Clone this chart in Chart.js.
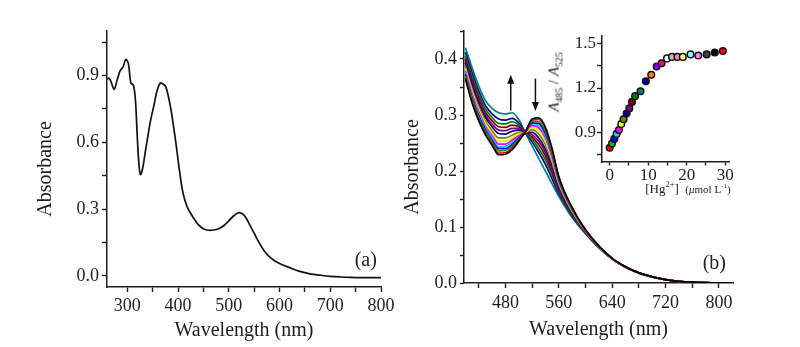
<!DOCTYPE html>
<html><head><meta charset="utf-8">
<script src="https://cdn.jsdelivr.net/npm/chart.js@4"></script>
<style>
html,body{margin:0;padding:0;background:#fff;}
#wrap{position:relative;width:800px;height:347px;overflow:hidden;background:#fff;}
canvas{position:absolute;}
.lbl{position:absolute;white-space:nowrap;font-family:"Liberation Serif",serif;color:#1a1a1a;line-height:1;}
.lbl sub,.lbl sup{font-size:65%;line-height:0;}
</style></head><body>
<div id="wrap">
<canvas id="ca" width="400" height="347" style="left:0;top:0;width:400px;height:347px"></canvas>
<canvas id="cb" width="400" height="347" style="left:400px;top:0;width:400px;height:347px"></canvas>
<canvas id="ci" width="220" height="175" style="left:540px;top:25px;width:220px;height:175px"></canvas>
<div class="lbl" id="iy" style="left:554px;top:82px;font-size:15px;transform:translate(-50%,-50%) rotate(-90deg);"><i>A</i><sub>485</sub> / <i>A</i><sub>525</sub></div>
<div class="lbl" id="ix" style="left:688px;top:188px;font-size:13px;transform:translate(-50%,-50%);">[Hg<sup>2+</sup>]&nbsp;&nbsp;<span style="font-size:11px">(<i>μ</i>mol L<sup>-1</sup>)</span></div>
</div>
<script>
// ---------- Panel (a) data ----------
const aWavelength = [260,264,268,274,280,286,292,297,302,307,312,316,320,323,326,330,335,340,346,352,359,365,370,376,385,395,403,410,418,425,432,440,450,460,470,480,490,500,510,520,530,540,550,560,570,580,590,600,620,640,660,680,700,720,740,760,780,800];
const aAbsorbance = [0.885,0.888,0.872,0.838,0.88,0.922,0.94,0.972,0.955,0.866,0.857,0.79,0.61,0.5,0.455,0.48,0.55,0.62,0.70,0.76,0.835,0.866,0.862,0.849,0.76,0.61,0.47,0.37,0.31,0.28,0.255,0.23,0.212,0.205,0.206,0.212,0.225,0.247,0.27,0.284,0.273,0.235,0.192,0.148,0.112,0.086,0.068,0.056,0.037,0.02,0.009,0.003,-0.002,-0.005,-0.007,-0.008,-0.008,-0.008];
const aXTicks = [300,350,400,450,500,550,600,650,700,750,800];
const aXLabels = [300,400,500,600,700,800];
const aYTicks = [0,0.15,0.3,0.45,0.6,0.75,0.9,1.05];
const aYLabels = [0,0.3,0.6,0.9];

// ---------- Panel (b) data (titration spectra) ----------
const bWavelength = [420,430,440,450,460,470,480,490,500,510,520,530,540,550,560,580,600,620,640,660,680,700,720,740,760,790,820];
const bSpec00 = [.365,.322,.290,.265,.246,.229,.230,.238,.253,.270,.293,.295,.278,.240,.190,.135,.095,.066,.044,.029,.018,.011,.006,.003,.0015,.0003,0];
const bSpec01 = [.367,.325,.292,.267,.249,.232,.233,.241,.255,.270,.291,.292,.275,.237,.189,.134,.095,.066,.044,.029,.018,.011,.006,.003,.0015,.0003,0];
const bSpec02 = [.370,.328,.296,.271,.252,.236,.237,.244,.257,.270,.289,.288,.271,.234,.187,.133,.094,.066,.044,.029,.018,.011,.006,.003,.0015,.0003,0];
const bSpec03 = [.373,.331,.299,.274,.255,.240,.240,.247,.259,.270,.286,.285,.267,.231,.185,.132,.094,.066,.044,.029,.018,.011,.006,.003,.0015,.0003,0];
const bSpec04 = [.376,.334,.302,.277,.259,.243,.244,.251,.260,.270,.284,.281,.263,.228,.183,.132,.094,.066,.044,.029,.018,.011,.006,.003,.0015,.0003,0];
const bSpec05 = [.379,.338,.306,.280,.263,.248,.248,.255,.263,.270,.281,.277,.259,.224,.181,.131,.093,.066,.044,.029,.018,.011,.006,.003,.0015,.0003,0];
const bSpec06 = [.383,.342,.310,.285,.267,.253,.253,.259,.266,.269,.278,.272,.253,.220,.179,.129,.093,.066,.044,.029,.018,.011,.006,.003,.0015,.0003,0];
const bSpec07 = [.387,.347,.315,.289,.272,.259,.259,.264,.269,.269,.274,.266,.247,.215,.176,.128,.092,.064,.043,.028,.018,.011,.006,.003,.0015,.0003,0];
const bSpec08 = [.393,.354,.321,.296,.279,.267,.266,.271,.273,.269,.269,.259,.239,.209,.173,.126,.092,.064,.043,.028,.018,.011,.006,.003,.0015,.0003,0];
const bSpec09 = [.397,.359,.326,.300,.284,.273,.272,.276,.276,.269,.265,.253,.233,.203,.170,.125,.091,.064,.043,.028,.018,.011,.006,.003,.0015,.0003,0];
const bSpec10 = [.401,.364,.331,.305,.290,.279,.278,.282,.279,.269,.261,.247,.227,.198,.167,.123,.090,.064,.043,.028,.018,.011,.006,.003,.0015,.0003,0];
const bSpec11 = [.406,.369,.337,.311,.296,.285,.284,.288,.282,.268,.257,.240,.220,.193,.164,.122,.090,.064,.043,.028,.018,.011,.006,.003,.0015,.0003,0];
const bSpec12 = [.412,.376,.343,.317,.302,.293,.291,.294,.286,.268,.252,.233,.212,.186,.160,.120,.089,.063,.043,.028,.018,.011,.006,.003,.0015,.0003,0];
const bSpec13 = [.420,.385,.352,.326,.312,.304,.302,.304,.292,.268,.245,.222,.200,.177,.155,.117,.088,.063,.043,.028,.018,.011,.006,.003,.0015,.0003,0];
const bSpectra = [bSpec00,bSpec01,bSpec02,bSpec03,bSpec04,bSpec05,bSpec06,bSpec07,bSpec08,bSpec09,bSpec10,bSpec11,bSpec12,bSpec13];
const bXTicks = [440,480,520,560,600,640,680,720,760,800];
const bXLabels = [480,560,640,720,800];
const bYTicks = [0,0.05,0.1,0.15,0.2,0.25,0.3,0.35,0.4,0.45];
const bYLabels = [0,0.1,0.2,0.3,0.4];
// arrows (wavelength, start absorbance, end absorbance)
const arrowWavelength = [488, 525];
const arrowFrom = [0.308, 0.365];
const arrowTo = [0.372, 0.307];

// ---------- Inset data ----------
const insetHg = [0,0.6,1.2,1.8,2.4,3.0,3.6,4.4,5.1,5.8,6.6,8.0,9.4,10.8,12.2,13.5,14.9,16.2,17.6,19.0,21.0,23.0,25.2,27.3,29.4];
const insetRatio = [0.796,0.825,0.856,0.89,0.916,0.956,0.989,1.027,1.062,1.106,1.145,1.178,1.245,1.289,1.345,1.367,1.40,1.41,1.41,1.41,1.427,1.42,1.427,1.44,1.45];
const insetXTicks = [0,5,10,15,20,25,30];
const insetXLabels = [0,10,20,30];
const insetYTicks = [0.75,0.9,1.05,1.2,1.35,1.5];
const insetYLabels = [0.9,1.2,1.5];

// ---------- styles ----------
const FONT = "'Liberation Serif','Times New Roman',serif";
const INK = '#1e1e1e';
const specColors = ['#000000','#ff0000','#00a000','#0000ff','#00c8e8','#ff00ff','#f0f000','#808000','#000080','#800080','#800000','#008000','#0000a0','#008080'];
const insetColors = ['#ff0000','#00c000','#0000ff','#00e0ff','#ff00ff','#ffff00','#808000','#000080','#800080','#800000','#008000','#008080','#0000a0','#ff8000','#8000ff','#ff0080','#ffffff','#c0c0c0','#ff80c0','#ffff80','#80ffff','#ff80ff','#404040','#000000','#ff0000'];

Chart.defaults.animation = false;
Chart.defaults.font.family = FONT;
Chart.defaults.color = INK;

function fixedTicks(values){ return s => { s.ticks = values.map(v => ({value: v})); }; }
function labelIf(majors, digits){ return v => majors.some(m => Math.abs(m - v) < 1e-9) ? Number(v).toFixed(digits) : ''; }

function axis(o){
  const cfg = {
    type:'linear', min:o.min, max:o.max, position:o.pos,
    afterBuildTicks: fixedTicks(o.ticks),
    afterFit: s => { if (o.pos === 'left') s.width = o.size; else s.height = o.size; },
    border:{display:true, color:INK, width:1.5},
    grid:{drawOnChartArea:false, drawTicks:true, tickLength:o.tickLen, tickColor:INK, tickWidth:1.4},
    ticks:{autoSkip:false, maxRotation:0, minRotation:0, padding:o.pad, color:INK, font:{family:FONT, size:o.font}, callback: labelIf(o.labels, o.digits)}
  };
  if (o.title) cfg.title = {display:true, text:o.title, color:INK, font:{family:FONT, size:20}, padding:o.titlePad};
  return cfg;
}

const panelLabel = {
  id:'panelLabel',
  afterDraw(chart, args, opts){
    if (!opts || !opts.text) return;
    const {ctx, scales:{x, y}} = chart;
    ctx.save();
    ctx.font = '20px ' + FONT; ctx.fillStyle = INK; ctx.textAlign = 'center'; ctx.textBaseline = 'middle';
    ctx.fillText(opts.text, x.getPixelForValue(opts.x), y.getPixelForValue(opts.y));
    ctx.restore();
  }
};
const arrows = {
  id:'arrows',
  afterDatasetsDraw(chart, args, opts){
    if (!opts || !opts.show) return;
    const {ctx, scales:{x, y}} = chart;
    ctx.save();
    ctx.strokeStyle = '#111'; ctx.fillStyle = '#111'; ctx.lineWidth = 1.5;
    arrowWavelength.forEach((w, i) => {
      const px = x.getPixelForValue(w), y0 = y.getPixelForValue(arrowFrom[i]), y1 = y.getPixelForValue(arrowTo[i]);
      const dir = y1 < y0 ? -1 : 1, head = 9, hw = 3.5;
      ctx.beginPath(); ctx.moveTo(px, y0); ctx.lineTo(px, y1 - dir*head*0.6); ctx.stroke();
      ctx.beginPath(); ctx.moveTo(px, y1); ctx.lineTo(px - hw, y1 - dir*head); ctx.lineTo(px + hw, y1 - dir*head); ctx.closePath(); ctx.fill();
    });
    ctx.restore();
  }
};
Chart.register(panelLabel, arrows);

// ---------- Chart (a) ----------
new Chart(document.getElementById('ca'), {
  type:'line',
  data:{datasets:[{data: aWavelength.map((w,i)=>({x:w, y:aAbsorbance[i]})), borderColor:'#111', borderWidth:1.7, pointRadius:0, tension:0.35, fill:false}]},
  options:{
    responsive:false, devicePixelRatio:1,
    layout:{padding:{left:0, top:31, right:19, bottom:0}},
    plugins:{legend:{display:false}, tooltip:{enabled:false}, panelLabel:{text:'(a)', x:770, y:0.07}},
    scales:{
      x: axis({min:260, max:800, pos:'bottom', ticks:aXTicks, labels:aXLabels, digits:0, size:60, tickLen:5, pad:3, font:18, title:'Wavelength (nm)', titlePad:{top:0,bottom:4}}),
      y: axis({min:-0.05, max:1.1, pos:'left', ticks:aYTicks, labels:aYLabels, digits:1, size:107, tickLen:5, pad:3, font:18, title:'Absorbance\u2003', titlePad:{top:34,bottom:0}})
    }
  }
});

// ---------- Chart (b) ----------
new Chart(document.getElementById('cb'), {
  type:'line',
  data:{datasets: bSpectra.map((s, k) => ({data: bWavelength.map((w,i)=>({x:w, y:s[i]})), borderColor:specColors[k], borderWidth:1.7, pointRadius:0, cubicInterpolationMode:'monotone', fill:false}))},
  options:{
    responsive:false, devicePixelRatio:1,
    layout:{padding:{left:0, top:31, right:67, bottom:0}},
    plugins:{legend:{display:false}, tooltip:{enabled:false}, panelLabel:{text:'(b)', x:793, y:0.035}, arrows:{show:true}},
    scales:{
      x: axis({min:418, max:821, pos:'bottom', ticks:bXTicks, labels:bXLabels, digits:0, size:64, tickLen:5, pad:4, font:18, title:'Wavelength (nm)', titlePad:{top:0,bottom:5}}),
      y: axis({min:0, max:0.45, pos:'left', ticks:bYTicks, labels:bYLabels, digits:1, size:64, tickLen:4, pad:3, font:18, title:'Absorbance\u2003', titlePad:{top:1,bottom:0}})
    }
  }
});

// ---------- Inset ----------
new Chart(document.getElementById('ci'), {
  type:'scatter',
  data:{datasets:[{data: insetHg.map((h,i)=>({x:h, y:insetRatio[i]})), pointRadius:3.3, pointBorderColor:'#111', pointBorderWidth:1.5, pointBackgroundColor:insetColors, showLine:false}]},
  options:{
    responsive:false, devicePixelRatio:1,
    layout:{padding:{left:0, top:9, right:31, bottom:0}},
    plugins:{legend:{display:false}, tooltip:{enabled:false}},
    scales:{
      x: axis({min:-2, max:31, pos:'bottom', ticks:insetXTicks, labels:insetXLabels, digits:0, size:38, tickLen:3.5, pad:0, font:17}),
      y: axis({min:0.7, max:1.55, pos:'left', ticks:insetYTicks, labels:insetYLabels, digits:1, size:62, tickLen:5, pad:1, font:17})
    }
  }
});
</script>
</body></html>
